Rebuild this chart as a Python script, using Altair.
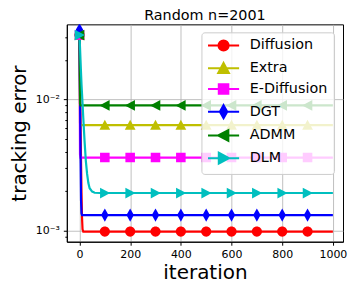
import altair as alt
import pandas as pd

# ---------------- data ----------------
iterations = [0, 2, 4, 6, 8, 10, 12, 15, 20, 25, 30, 35, 40, 50, 60, 80,
              100, 200, 300, 400, 500, 600, 700, 800, 900, 1000]

methods = ["Diffusion", "Extra", "E-Diffusion", "DGT", "ADMM", "DLM"]

diffusion = [0.031, 0.015, 0.007, 0.0035, 0.0019, 0.00125, 0.00102, 0.00098, 0.00098, 0.00098,
             0.00098, 0.00098, 0.00098, 0.00098, 0.00098, 0.00098,
             0.00098, 0.00098, 0.00098, 0.00098, 0.00098, 0.00098, 0.00098, 0.00098, 0.00098, 0.00098]
extra = [0.031, 0.0066, 0.00638, 0.00637, 0.00637, 0.00637, 0.00637, 0.00637, 0.00637, 0.00637,
         0.00637, 0.00637, 0.00637, 0.00637, 0.00637, 0.00637,
         0.00637, 0.00637, 0.00637, 0.00637, 0.00637, 0.00637, 0.00637, 0.00637, 0.00637, 0.00637]
e_diffusion = [0.031, 0.0038, 0.0036, 0.0036, 0.0036, 0.0036, 0.0036, 0.0036, 0.0036, 0.0036,
               0.0036, 0.0036, 0.0036, 0.0036, 0.0036, 0.0036,
               0.0036, 0.0036, 0.0036, 0.0036, 0.0036, 0.0036, 0.0036, 0.0036, 0.0036, 0.0036]
dgt = [0.034, 0.012, 0.004, 0.0017, 0.00135, 0.00131, 0.00131, 0.00131, 0.00131, 0.00131,
       0.00131, 0.00131, 0.00131, 0.00131, 0.00131, 0.00131,
       0.00131, 0.00131, 0.00131, 0.00131, 0.00131, 0.00131, 0.00131, 0.00131, 0.00131, 0.00131]
admm = [0.031, 0.0093, 0.009, 0.009, 0.009, 0.009, 0.009, 0.009, 0.009, 0.009,
        0.009, 0.009, 0.009, 0.009, 0.009, 0.009,
        0.009, 0.009, 0.009, 0.009, 0.009, 0.009, 0.009, 0.009, 0.009, 0.009]
dlm = [0.031, 0.025, 0.02, 0.016, 0.013, 0.011, 0.0093, 0.0072, 0.0048, 0.0034,
       0.0027, 0.0023, 0.0021, 0.00198, 0.00194, 0.00193,
       0.00193, 0.00193, 0.00193, 0.00193, 0.00193, 0.00193, 0.00193, 0.00193, 0.00193, 0.00193]

colors = ["#ff0000", "#bfbf00", "#ff00ff", "#0000ff", "#008000", "#00bfbf"]

x_ticks = [0, 200, 400, 600, 800, 1000]
y_ticks = [0.0009, 0.001, 0.002, 0.003, 0.004, 0.005, 0.006, 0.007, 0.008, 0.009,
           0.01, 0.02, 0.03]

# marker shapes (unit coords, scaled by sqrt(size)/2)
circle = "M-0.85,0A0.85,0.85,0,1,0,0.85,0A0.85,0.85,0,1,0,-0.85,0Z"
tri_up = "M0,-0.9L0.9,0.8L-0.9,0.8Z"
square = "M-0.8,-0.8L0.8,-0.8L0.8,0.8L-0.8,0.8Z"
thin_diamond = "M0,-1.1L0.62,0L0,1.1L-0.62,0Z"
tri_left = "M-0.9,0L0.8,-0.9L0.8,0.9Z"
tri_right = "M0.9,0L-0.8,-0.9L-0.8,0.9Z"
marker_paths = [circle, tri_up, square, thin_diamond, tri_left, tri_right]
line_seg = "M-2.6,0L2.6,0"
legend_paths = [line_seg + p for p in marker_paths]

rows = []
for name, vals in zip(methods, [diffusion, extra, e_diffusion, dgt, admm, dlm]):
    for it, v in zip(iterations, vals):
        rows.append({"iteration": it, "error": v, "method": name})
df = pd.DataFrame(rows)

FONT = "DejaVu Sans"

x_enc = alt.X(
    "iteration:Q",
    scale=alt.Scale(domain=[-50, 1040], nice=False, zero=False),
    axis=alt.Axis(values=x_ticks, format="d", title="iteration", grid=True, gridColor="#b0b0b0",
                  gridWidth=0.8, tickSize=3.5, tickColor="black", domainColor="black",
                  labelFont=FONT, labelFontSize=11, labelColor="black", labelPadding=3,
                  titleFont=FONT, titleFontSize=20, titleFontWeight="normal",
                  titleColor="black", titleY=37, titleBaseline="alphabetic"),
)

label_expr = "datum.value == 0.01 ? '10⁻²' : (datum.value == 0.001 ? '10⁻³' : '')"
major_test = "datum.value == 0.01 || datum.value == 0.001"
y_enc = alt.Y(
    "error:Q",
    scale=alt.Scale(type="log", domain=[0.00082, 0.0374], nice=False),
    axis=alt.Axis(values=y_ticks, labelExpr=label_expr, title="tracking error",
                  grid=True, gridColor="#b0b0b0", gridWidth=0.8,
                  gridOpacity={"condition": {"test": major_test, "value": 1}, "value": 0},
                  tickSize={"condition": {"test": major_test, "value": 3.5}, "value": 2},
                  tickColor="black", domainColor="black",
                  labelFont=FONT, labelFontSize=11, labelColor="black", labelPadding=4,
                  titleFont=FONT, titleFontSize=20, titleFontWeight="normal",
                  titleColor="black", titleX=-41, titleY=109, titleBaseline="alphabetic",
                  titleAlign="center"),
)

color_scale = alt.Scale(domain=methods, range=colors)

lines = alt.Chart(df).mark_line(strokeWidth=2.2, clip=True).encode(
    x=x_enc, y=y_enc,
    color=alt.Color("method:N", scale=color_scale, legend=None),
    detail="method:N",
)

markers = alt.Chart(df).transform_filter(
    "datum.iteration % 100 == 0 && datum.iteration < 1000"
).mark_point(filled=True, size=144, opacity=1, clip=True).encode(
    x=x_enc, y=y_enc,
    color=alt.Color("method:N", scale=color_scale, legend=None),
    shape=alt.Shape("method:N", scale=alt.Scale(domain=methods, range=marker_paths), legend=None),
)

legend_layer = alt.Chart(df).transform_filter("false").mark_point(
    strokeWidth=2, opacity=1, fillOpacity=1, strokeOpacity=1
).encode(
    x=x_enc, y=y_enc,
    fill=alt.Fill("method:N", scale=alt.Scale(domain=methods, range=colors), title=None),
    stroke=alt.Stroke("method:N", scale=alt.Scale(domain=methods, range=colors), title=None),
    shape=alt.Shape("method:N", scale=alt.Scale(domain=methods, range=legend_paths), title=None),
)

chart = alt.layer(lines, markers, legend_layer).resolve_scale(
    shape="independent", color="independent", fill="independent", stroke="independent"
).resolve_legend(
    shape="independent", color="independent", fill="independent", stroke="independent"
).properties(
    width=277, height=218,
    title=alt.TitleParams("Random n=2001", font=FONT, fontSize=14.4, fontWeight="normal",
                          color="black", offset=1, anchor="middle"),
    autosize=alt.AutoSizeParams(type="none"),
    padding={"left": 59, "top": 16, "right": 5, "bottom": 42},
).configure_view(
    stroke="black", strokeWidth=1
).configure_legend(
    orient="none", legendX=135, legendY=8, padding=6,
    symbolSize=144, symbolStrokeWidth=2, symbolOffset=9, symbolOpacity=1,
    labelOffset=19, labelFont=FONT, labelFontSize=14.4, labelColor="black",
    rowPadding=2.8, fillColor="rgba(255,255,255,0.8)", strokeColor="#cccccc",
    cornerRadius=3,
)

chart.save("out.html", embed_options={"renderer": "svg", "actions": False})
